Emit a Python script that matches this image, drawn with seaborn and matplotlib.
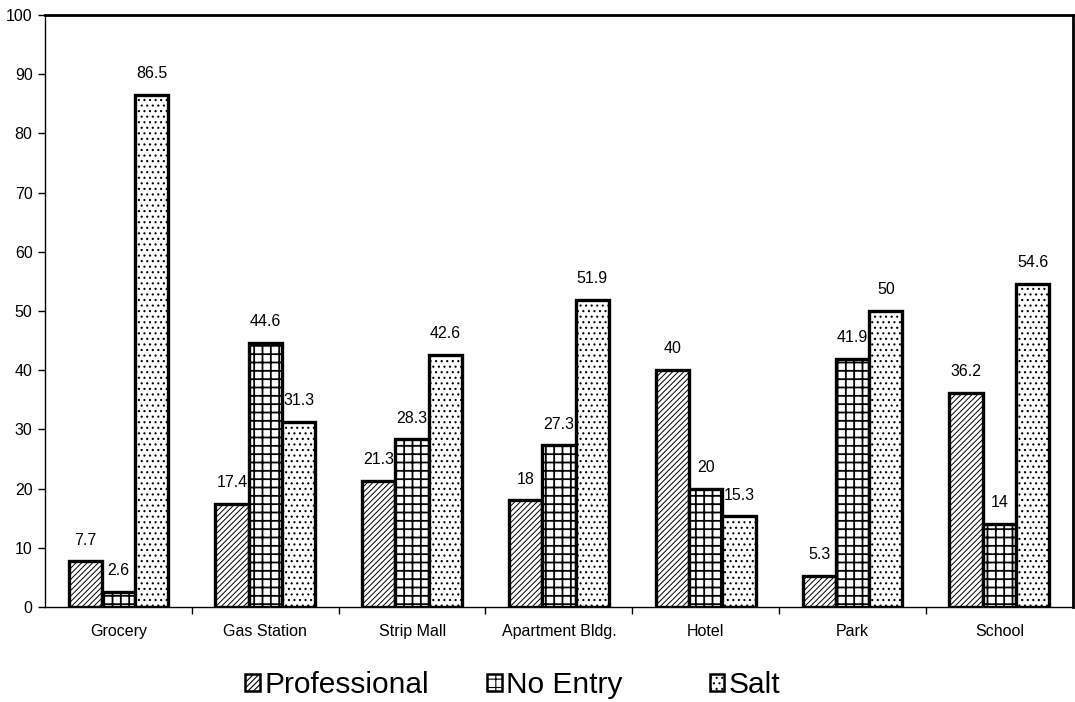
import numpy as np
import pandas as pd
import matplotlib
matplotlib.use("Agg")
import matplotlib.pyplot as plt
from matplotlib.patches import Patch
from matplotlib.ticker import FixedLocator
import seaborn as sns

# Survey shares (%) by location and de-icing method
places = ["Grocery", "Gas Station", "Strip Mall", "Apartment Bldg.", "Hotel", "Park", "School"]
methods = ["Professional", "No Entry", "Salt"]
professional = [7.7, 17.4, 21.3, 18, 40, 5.3, 36.2]
no_entry = [2.6, 44.6, 28.3, 27.3, 20, 41.9, 14]
salt = [86.5, 31.3, 42.6, 51.9, 15.3, 50, 54.6]
y_ticks = list(range(0, 101, 10))

df = pd.DataFrame({
    "place": places * 3,
    "method": [m for m in methods for _ in places],
    "value": professional + no_entry + salt,
})

sns.set_style("ticks")
plt.rcParams["font.family"] = ["Liberation Sans", "DejaVu Sans"]
plt.rcParams["hatch.linewidth"] = 0.8
plt.rcParams["hatch.color"] = "black"
for key in ["text.color", "axes.labelcolor", "xtick.color", "ytick.color", "axes.edgecolor"]:
    plt.rcParams[key] = "black"

fig = plt.figure(figsize=(10.75, 7.02), dpi=100)
ax = fig.add_axes([0.0419, 0.1353, 0.9560, 0.8433])

sns.barplot(data=df, x="place", y="value", hue="method", order=places,
            hue_order=methods, palette=["white"] * 3, edgecolor="black",
            linewidth=2.4, width=0.68, gap=0, legend=False, ax=ax,
            errorbar=None)

hatches = {"Professional": "//////", "No Entry": "++", "Salt": "..."}
hatch_lw = {"Professional": 0.7, "No Entry": 1.3, "Salt": 0.8}


def style_patch(patch, method):
    patch.set_hatch(hatches[method])
    if hasattr(patch, "set_hatch_linewidth"):
        patch.set_hatch_linewidth(hatch_lw[method])


for method, cont in zip(methods, ax.containers):
    for bar in cont:
        style_patch(bar, method)
    labels = [f"{v:g}" for v in cont.datavalues]
    ax.bar_label(cont, labels=labels, padding=10, fontsize=11.5, color="black")

ax.set_ylim(0, 100)
ax.set_xlim(-0.5, len(places) - 0.5)
ax.set_yticks(y_ticks)
ax.set_xlabel("")
ax.set_ylabel("")
ax.tick_params(axis="y", direction="out", length=5, width=1, labelsize=11.5, pad=4,
               colors="black")
ax.tick_params(axis="x", which="major", length=0, labelsize=11.5, pad=12,
               colors="black")
ax.xaxis.set_minor_locator(FixedLocator(np.arange(0.5, len(places) - 0.5, 1)))
ax.tick_params(axis="x", which="minor", direction="out", length=5, width=1,
               colors="black")

for side in ["left", "top", "right", "bottom"]:
    ax.spines[side].set_visible(True)
    ax.spines[side].set_color("black")
ax.spines["left"].set_linewidth(1.0)
ax.spines["bottom"].set_linewidth(1.0)
ax.spines["top"].set_linewidth(2.0)
ax.spines["right"].set_linewidth(2.0)

# One legend entry per method, spaced along the bottom
legend_x = [0.228, 0.453, 0.660]
for method, x in zip(methods, legend_x):
    handle = Patch(facecolor="white", edgecolor="black", linewidth=1.8)
    style_patch(handle, method)
    fig.legend(handles=[handle], labels=[method], loc="center left",
               bbox_to_anchor=(x, 0.024), frameon=False, fontsize=21.5,
               handlelength=0.5, handleheight=0.5, handletextpad=0.15,
               borderpad=0, borderaxespad=0, labelcolor="black")

fig.savefig("out.png", dpi=100)
